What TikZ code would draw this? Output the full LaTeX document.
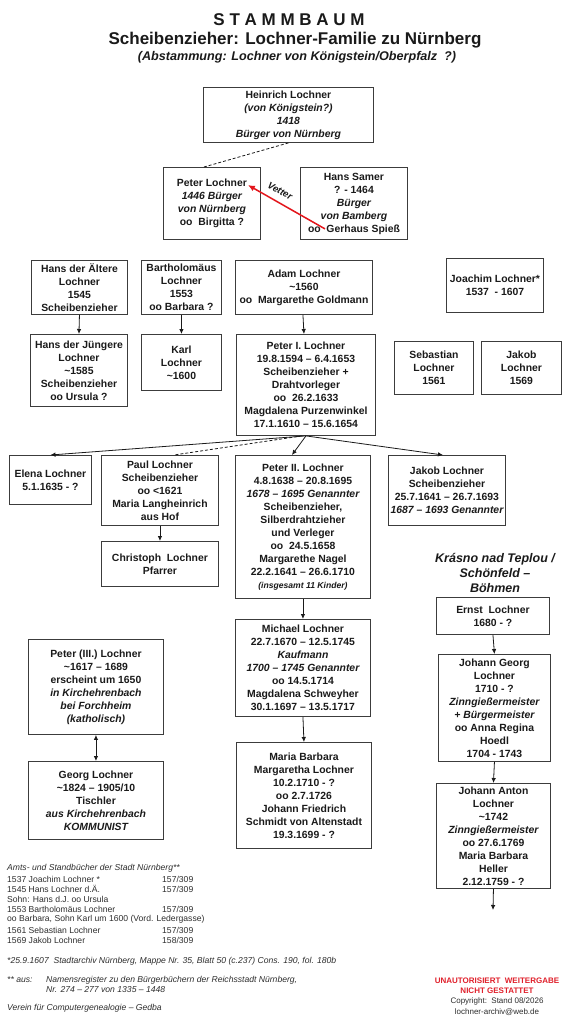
\documentclass[tikz,border=0pt]{standalone}
\usepackage{fontspec}
\setmainfont{Liberation Sans}
\usetikzlibrary{arrows.meta}
\definecolor{boxline}{HTML}{3C3C3C}
\definecolor{ink}{HTML}{1A1A1A}
\definecolor{notegray}{HTML}{2E2E2E}
\definecolor{vred}{HTML}{E3151B}
\definecolor{wred}{HTML}{E0202B}
\begin{document}
\begin{tikzpicture}[x=1pt,y=-1pt,
  box/.style={draw=boxline, line width=0.9pt, anchor=north west, align=center, inner sep=1pt, text=ink, font=\fontsize{10.4}{13}\selectfont\bfseries},
  conn/.style={draw=ink, line width=0.8pt},
  arr/.style={conn, -{Latex[length=5pt,width=4.5pt]}},
  darr/.style={conn, {Latex[length=5pt,width=4.5pt]}-{Latex[length=5pt,width=4.5pt]}},
  dashlink/.style={conn, dash pattern=on 3pt off 2pt},
  redarr/.style={draw=vred, line width=1.5pt, -{Latex[length=7pt,width=6pt]}},
  note/.style={anchor=west, inner sep=0pt, text=notegray, font=\fontsize{8.6}{10.3}\selectfont},
  inote/.style={note, font=\fontsize{8.6}{10.3}\selectfont\itshape},
  titlefont/.style={inner sep=0pt, text=ink, font=\fontsize{17}{20}\selectfont\bfseries},
]
\fill[white] (0,0) rectangle (576,1024);
\useasboundingbox (0,0) rectangle (576,1024);

% titles
\node[titlefont] (title) at (289,20) {S T A M M B A U M};
\node[titlefont] (sub) at (295,40) {Scheibenzieher: Lochner-Familie zu Nürnberg};
\node[inner sep=0pt, text=ink, font=\fontsize{12.6}{15}\selectfont\bfseries\itshape] (origin) at (297,57) {(Abstammung: Lochner von Königstein/Oberpfalz\ \ ?)};

% boxes
\node[box, minimum width=170pt, minimum height=55pt] (heinrich) at (203,87) {Heinrich Lochner\\{\itshape (von Königstein?)}\\{\itshape 1418}\\{\itshape Bürger von Nürnberg}};
\node[box, minimum width=97pt, minimum height=72pt] (peter) at (163,167) {Peter Lochner\\{\itshape 1446 Bürger}\\{\itshape von Nürnberg}\\oo\ \ Birgitta ?};
\node[box, minimum width=107pt, minimum height=72pt] (samer) at (300,167) {Hans\ Samer\\? - 1464\\{\itshape Bürger}\\{\itshape von Bamberg}\\oo\ \ Gerhaus Spieß};

\node[box, minimum width=96pt, minimum height=54pt] (hansae) at (31,260) {Hans der Ältere\\Lochner\\1545\\Scheibenzieher};
\node[box, minimum width=80pt, minimum height=54pt] (bart) at (141,260) {Bartholomäus\\Lochner\\1553\\oo Barbara ?};
\node[box, minimum width=137pt, minimum height=54pt] (adam) at (235,260) {Adam Lochner\\\textasciitilde 1560\\oo\ \ Margarethe Goldmann};
\node[box, minimum width=97pt, minimum height=54pt] (joachim) at (446,258) {Joachim Lochner*\\1537\ \ - 1607};

\node[box, minimum width=97pt, minimum height=72pt] (hansj) at (30,334) {Hans der Jüngere\\Lochner\\\textasciitilde 1585\\Scheibenzieher\\oo Ursula\ ?};
\node[box, minimum width=80pt, minimum height=56pt] (karl) at (141,334) {Karl\\Lochner\\\textasciitilde 1600};
\node[box, minimum width=139pt, minimum height=101pt] (peter1) at (236,334) {Peter I. Lochner\\19.8.1594 – 6.4.1653\\Scheibenzieher +\\Drahtvorleger\\oo\ \ 26.2.1633\\Magdalena Purzenwinkel\\17.1.1610 – 15.6.1654};
\node[box, minimum width=79pt, minimum height=53pt] (sebastian) at (394,341) {Sebastian\\Lochner\\1561};
\node[box, minimum width=80pt, minimum height=53pt] (jakob) at (481,341) {Jakob\\Lochner\\1569};

\node[box, minimum width=82pt, minimum height=49pt] (elena) at (9,455) {Elena Lochner\\5.1.1635 - ?};
\node[box, minimum width=117pt, minimum height=70pt] (paul) at (101,455) {Paul Lochner\\Scheibenzieher\\oo <1621\\Maria Langheinrich\\aus Hof};
\node[box, minimum width=135pt, minimum height=143pt] (peter2) at (235,455) {Peter II. Lochner\\4.8.1638 – 20.8.1695\\{\itshape 1678 – 1695 Genannter}\\Scheibenzieher,\\Silberdrahtzieher\\und Verleger\\oo\ \ 24.5.1658\\Margarethe Nagel\\22.2.1641 – 26.6.1710\\{\fontsize{8.6}{12}\selectfont\itshape (insgesamt 11 Kinder)}};
\node[box, minimum width=117pt, minimum height=70pt] (jakobl) at (388,455) {Jakob Lochner\\Scheibenzieher\\25.7.1641 – 26.7.1693\\{\itshape 1687 – 1693 Genannter}};
\node[box, minimum width=117pt, minimum height=45pt] (christoph) at (101,541) {Christoph\ \ Lochner\\Pfarrer};

\node[inner sep=0pt, align=center, text=ink, font=\fontsize{12.5}{15}\selectfont\bfseries\itshape] (place) at (495,573) {Krásno nad Teplou /\\Schönfeld –\\Böhmen};
\node[box, minimum width=113pt, minimum height=37pt] (ernst) at (436,597) {Ernst\ \ Lochner\\1680 - ?};
\node[box, minimum width=112pt, minimum height=107pt] (jgeorg) at (438,654) {Johann Georg\\Lochner\\1710 - ?\\{\itshape Zinngießermeister}\\{\itshape + Bürgermeister}\\oo Anna Regina\\Hoedl\\1704 - 1743};
\node[box, minimum width=114pt, minimum height=105pt] (janton) at (436,783) {Johann Anton\\Lochner\\\textasciitilde 1742\\{\itshape Zinngießermeister}\\oo 27.6.1769\\Maria Barbara\\Heller\\2.12.1759 - ?};
\coordinate (jantonend) at (493,910);

\node[box, minimum width=135pt, minimum height=97pt] (michael) at (235,619) {Michael Lochner\\22.7.1670 – 12.5.1745\\{\itshape Kaufmann}\\{\itshape 1700 – 1745 Genannter}\\oo 14.5.1714\\Magdalena Schweyher\\30.1.1697 – 13.5.1717};
\node[box, minimum width=135pt, minimum height=106pt] (maria) at (236,742) {Maria Barbara\\Margaretha Lochner\\10.2.1710 - ?\\oo 2.7.1726\\Johann Friedrich\\Schmidt von Altenstadt\\19.3.1699 - ?};
\node[box, minimum width=135pt, minimum height=95pt] (peter3) at (28,639) {Peter (III.) Lochner\\\textasciitilde 1617 – 1689\\erscheint um 1650\\{\itshape in Kirchehrenbach}\\{\itshape bei Forchheim}\\{\itshape (katholisch)}};
\node[box, minimum width=135pt, minimum height=78pt] (georg) at (28,761) {Georg Lochner\\\textasciitilde 1824 – 1905/10\\Tischler\\{\itshape aus Kirchehrenbach}\\{\itshape KOMMUNIST}};

% connectors
\draw[dashlink] (heinrich.south) -- ([xshift=-8pt]peter.north);
\draw[redarr] ([xshift=25pt,yshift=11pt]samer.south west) -- ([xshift=-13pt,yshift=-18pt]peter.north east);
\node[rotate=-29, inner sep=0pt, text=ink, font=\fontsize{9.5}{11}\selectfont\bfseries\itshape] (vetter) at (280,191) {Vetter};

\draw[arr] (hansae.south) -- (hansj.north);
\draw[arr] (bart.south) -- (karl.north);
\draw[arr] ([xshift=-1pt]adam.south) -- ([xshift=-2pt]peter1.north);
\draw[arr] (peter1.south) -- (elena.north);
\draw[dashlink] ([xshift=-4pt]peter1.south) -- ([xshift=14pt]paul.north);
\draw[arr] (peter1.south) -- ([xshift=-11pt]peter2.north);
\draw[arr] (peter1.south) -- ([xshift=-4pt]jakobl.north);
\draw[arr] (paul.south) -- (christoph.north);
\draw[arr] (peter2.south) -- (michael.north);
\draw[arr] (michael.south) -- (maria.north);
\draw[darr] (peter3.south) -- (georg.north);
\draw[arr] (ernst.south) -- (jgeorg.north);
\draw[arr] (jgeorg.south) -- (janton.north);
\draw[arr] (janton.south) -- (jantonend);

% notes
\node[inote] (fn0) at (7,868) {Amts- und Standbücher der Stadt Nürnberg**};
\node[note] (fn1) at (7,879) {1537 Joachim Lochner *};
\node[note] (fn1r) at (162,879) {157/309};
\node[note] (fn2) at (7,889) {1545 Hans Lochner d.Ä.};
\node[note] (fn2r) at (162,889) {157/309};
\node[note] (fn3) at (7,899) {Sohn: Hans d.J. oo Ursula};
\node[note] (fn4) at (7,909) {1553 Bartholomäus Lochner};
\node[note] (fn4r) at (162,909) {157/309};
\node[note] (fn5) at (7,919) {oo Barbara, Sohn Karl um 1600 (Vord. Ledergasse)};
\node[note] (fn6) at (7,930) {1561 Sebastian Lochner};
\node[note] (fn6r) at (162,930) {157/309};
\node[note] (fn7) at (7,940) {1569 Jakob Lochner};
\node[note] (fn7r) at (162,940) {158/309};
\node[inote] (fn8) at (7,961) {*25.9.1607\ \ Stadtarchiv Nürnberg, Mappe Nr. 35, Blatt 50 (c.237) Cons. 190, fol. 180b};
\node[inote] (fn9) at (7,980) {** aus:};
\node[inote] (fn10) at (46,980) {Namensregister zu den Bürgerbüchern der Reichsstadt Nürnberg,};
\node[inote] (fn11) at (46,990) {Nr. 274 – 277 von 1335 – 1448};
\node[inote] (fn12) at (7,1008) {Verein für Computergenealogie – Gedba};

\node[inner sep=0pt, text=wred, font=\fontsize{8}{10}\selectfont\bfseries] (warn1) at (497,981) {UNAUTORISIERT\ \ WEITERGABE};
\node[inner sep=0pt, text=wred, font=\fontsize{8}{10}\selectfont\bfseries] (warn2) at (497,991) {NICHT GESTATTET};
\node[inner sep=0pt, text=notegray, font=\fontsize{8}{10}\selectfont] (copy) at (497,1001) {Copyright:\ \ Stand 08/2026};
\node[inner sep=0pt, text=notegray, font=\fontsize{8}{10}\selectfont] (mail) at (497,1012) {lochner-archiv@web.de};
\end{tikzpicture}
\end{document}
